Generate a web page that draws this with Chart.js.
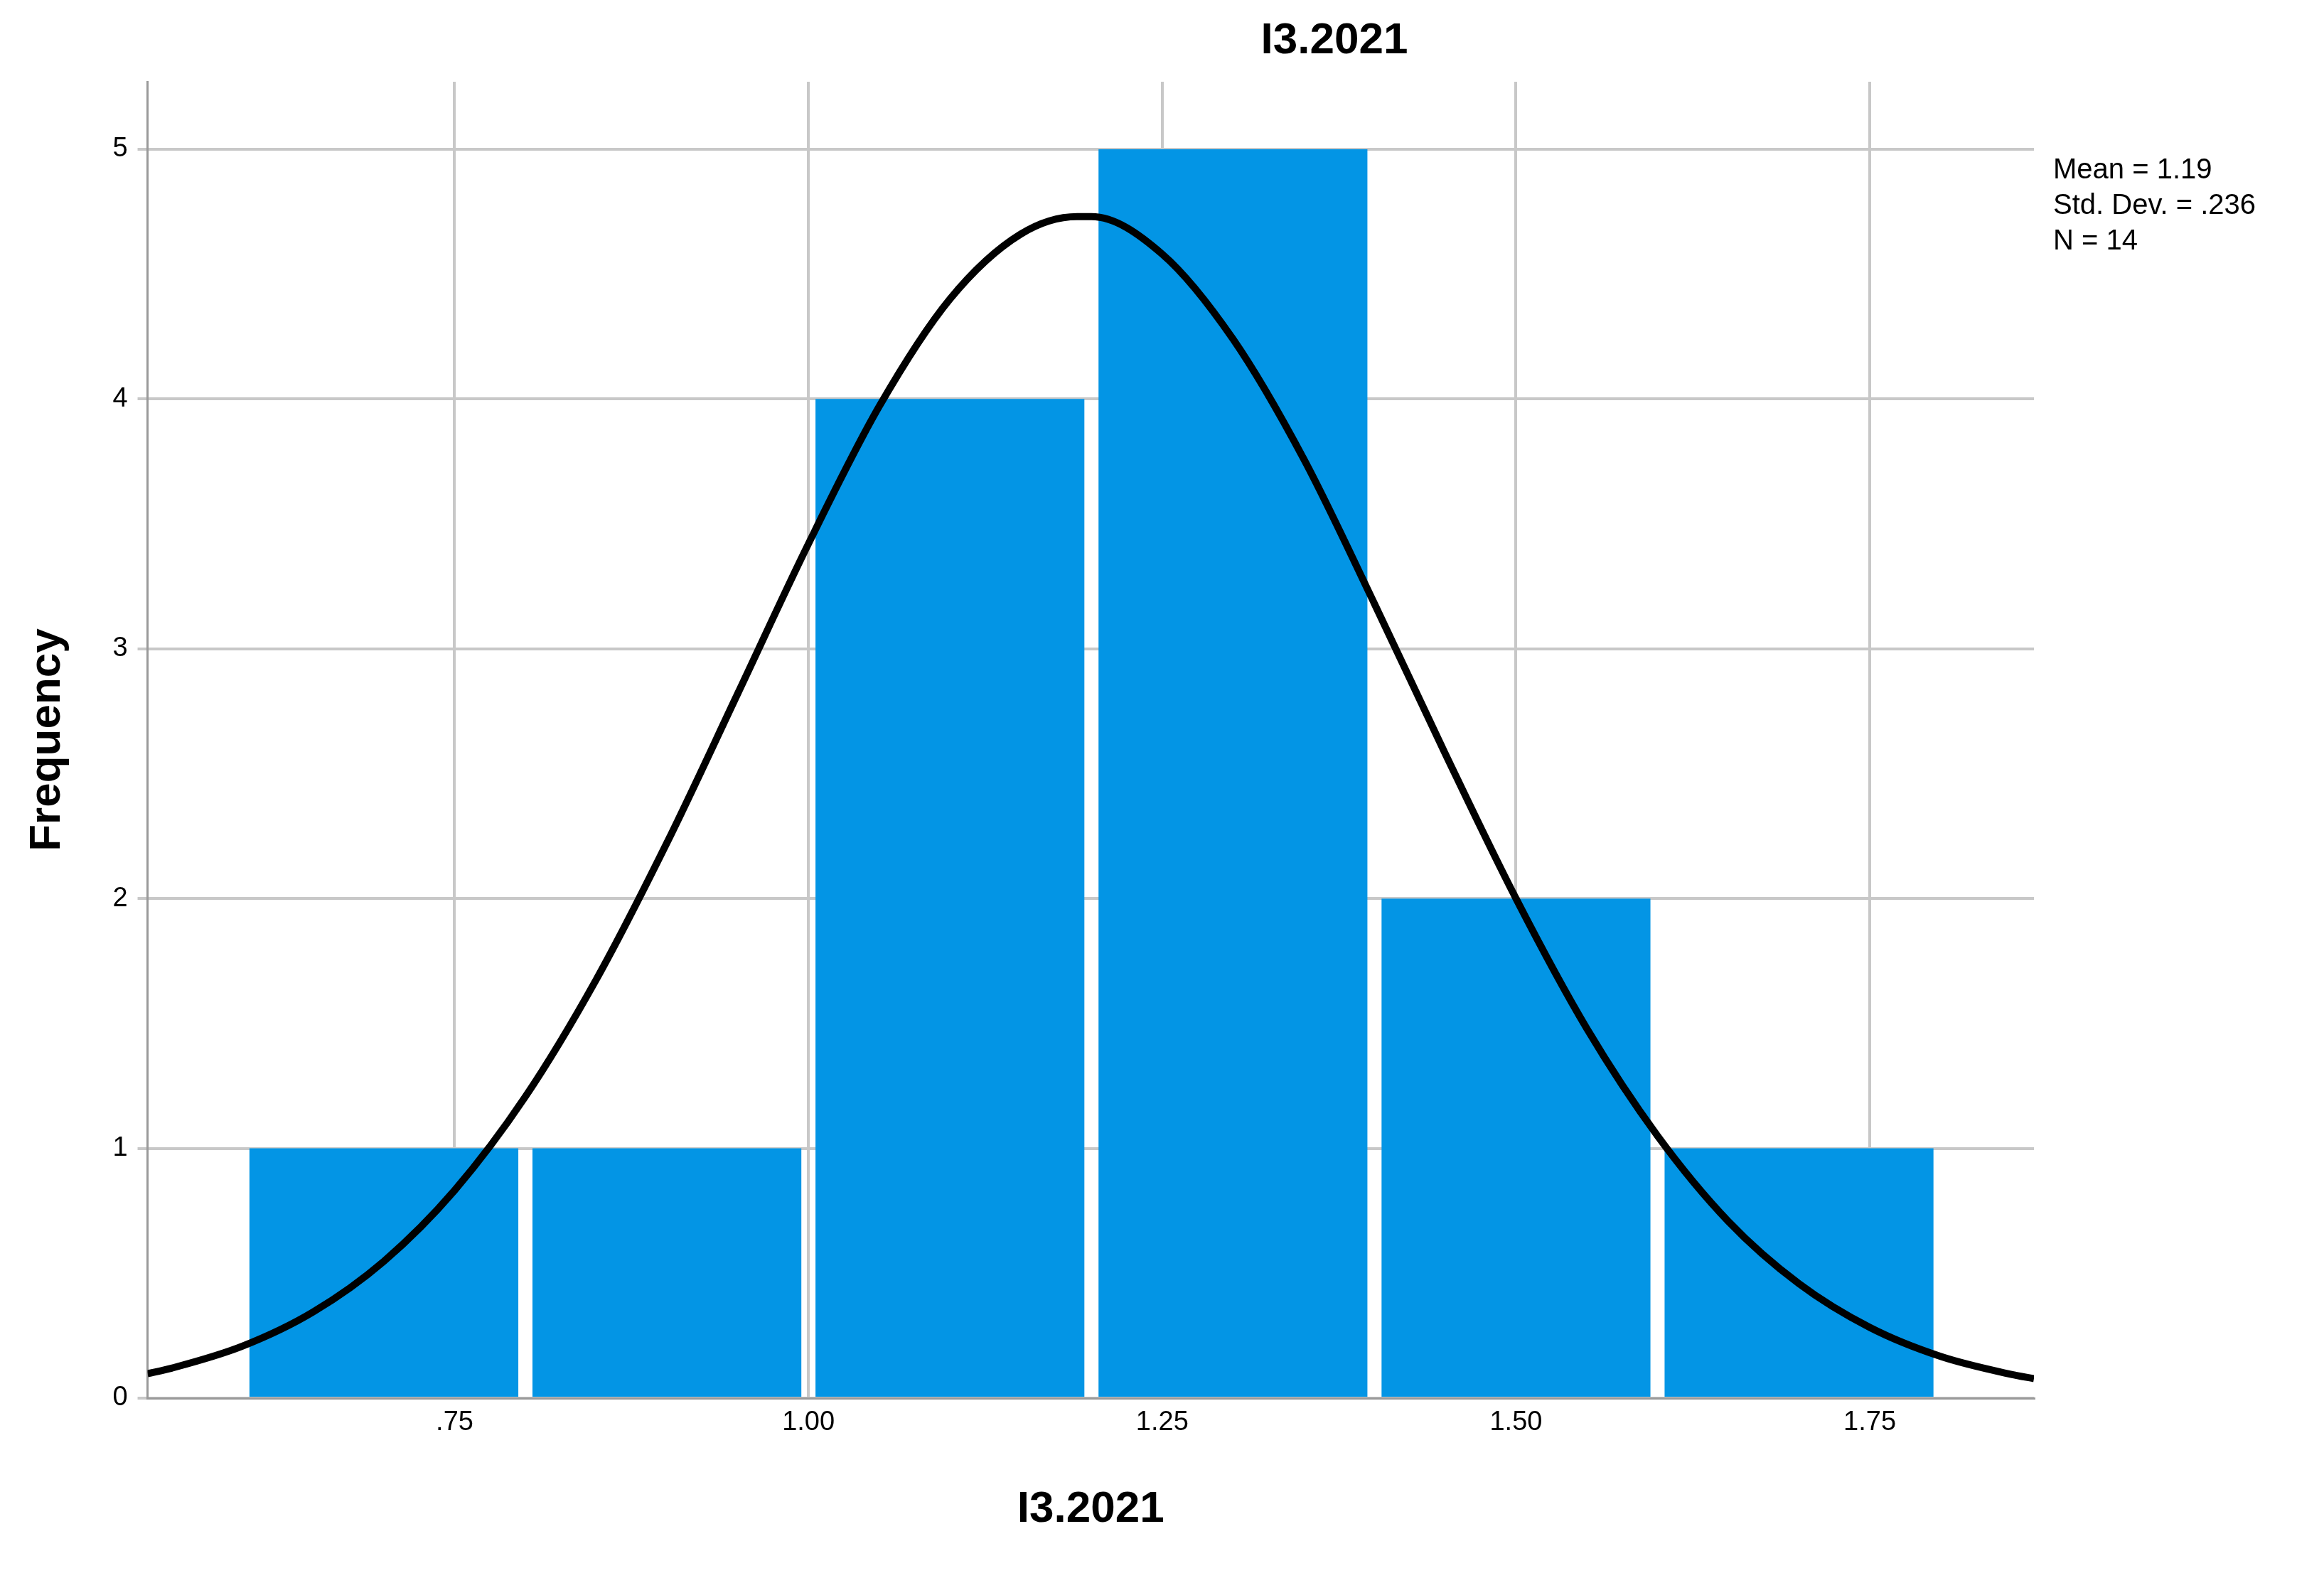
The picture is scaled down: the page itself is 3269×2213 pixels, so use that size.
<!DOCTYPE html>
<html><head><meta charset="utf-8">
<script src="https://cdn.jsdelivr.net/npm/chart.js@4/dist/chart.umd.min.js"></script>
<style>html,body{margin:0;background:#fff}#w{width:3269px;height:2213px}</style>
</head><body><div id="w"><canvas id="c"></canvas></div>
<script>
const binCenters = [0.7, 0.9, 1.1, 1.3, 1.5, 1.7];
const frequencies = [1, 1, 4, 5, 2, 1];
const curveX = [0.533,0.55,0.6,0.65,0.7,0.75,0.8,0.85,0.9,0.95,1.0,1.05,1.1,1.15,1.19,1.2,1.25,1.3,1.35,1.4,1.45,1.5,1.55,1.6,1.65,1.7,1.75,1.8,1.85,1.866];
const curveY = [0.098,0.12,0.208,0.345,0.548,0.832,1.207,1.675,2.223,2.82,3.42,3.97,4.40,4.66,4.73,4.73,4.58,4.24,3.76,3.18,2.58,2.00,1.48,1.05,0.708,0.458,0.283,0.167,0.095,0.078];
const xTicks = [0.75, 1.0, 1.25, 1.5, 1.75];
const yTicks = [0, 1, 2, 3, 4, 5];
const titleText = 'I3.2021';
const statsText = ['Mean = 1.19', 'Std. Dev. = .236', 'N = 14'];

const textPlugin = {
  id: 'txt',
  afterDraw(chart) {
    const ctx = chart.ctx;
    ctx.save();
    ctx.fillStyle = '#000';
    ctx.font = 'bold 62px Arial, "Liberation Sans"';
    ctx.textAlign = 'center'; ctx.textBaseline = 'middle';
    ctx.fillText(titleText, 1877, 58);
    ctx.font = '40px Arial, "Liberation Sans"';
    ctx.textAlign = 'left';
    statsText.forEach((t, i) => ctx.fillText(t, 2888, 240 + i * 50));
    ctx.restore();
  }
};

new Chart(document.getElementById('c'), {
  data: {
    datasets: [
      { type: 'line', data: curveX.map((x, i) => ({x, y: curveY[i]})), borderColor: '#000', borderWidth: 10, pointRadius: 0, cubicInterpolationMode: 'monotone', fill: false, order: 0 },
      { type: 'bar', data: binCenters.map((x, i) => ({x, y: frequencies[i]})), backgroundColor: '#0395E5', barPercentage: 0.95, categoryPercentage: 1, order: 1 }
    ]
  },
  options: {
    responsive: true, maintainAspectRatio: false, animation: false,
    devicePixelRatio: 1,
    layout: { padding: { left: 26, right: 408, top: 115, bottom: 48 } },
    plugins: { legend: { display: false }, tooltip: { enabled: false } },
    scales: {
      x: {
        type: 'linear', min: 0.533, max: 1.866, offset: false,
        afterBuildTicks: s => { s.ticks = xTicks.map(v => ({ value: v })); },
        ticks: { color: '#000', font: { size: 38, family: 'Arial, "Liberation Sans"' }, padding: 12,
          callback: v => { const s = v.toFixed(2); return s.startsWith('0') ? s.slice(1) : s; } },
        grid: { color: '#c8c8c8', lineWidth: 4, drawTicks: false, offset: false },
        border: { color: '#9a9a9a', width: 3 },
        title: { display: true, text: titleText, color: '#000', font: { size: 62, weight: 'bold', family: 'Arial, "Liberation Sans"' }, padding: { top: 50 } }
      },
      y: {
        min: 0, max: 5.27,
        afterBuildTicks: s => { s.ticks = yTicks.map(v => ({ value: v })); },
        ticks: { color: '#000', font: { size: 38, family: 'Arial, "Liberation Sans"' }, padding: 14 },
        grid: { color: '#c8c8c8', lineWidth: 4, drawTicks: true, tickLength: 14 },
        border: { color: '#9a9a9a', width: 3 },
        title: { display: true, text: 'Frequency', color: '#000', font: { size: 62, weight: 'bold', family: 'Arial, "Liberation Sans"' }, padding: { bottom: 40 } }
      }
    }
  },
  plugins: [textPlugin]
});
</script></body></html>
